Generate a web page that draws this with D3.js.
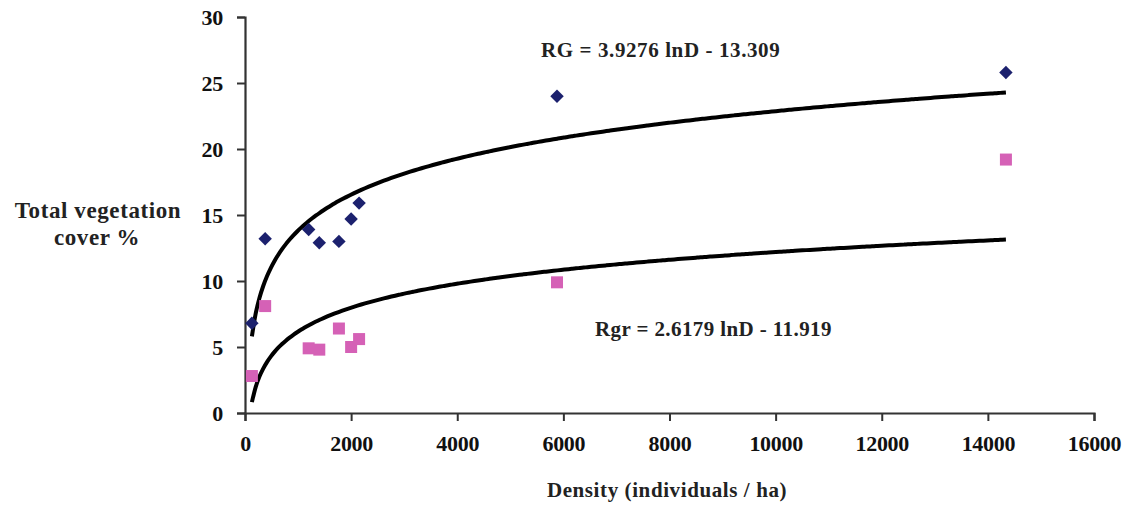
<!DOCTYPE html>
<html>
<head>
<meta charset="utf-8">
<script src="https://cdn.jsdelivr.net/npm/d3@7"></script>
<style>
    body { margin: 0; background: #fff; }
    svg { display: block; }
    .tick text { font-family: "Liberation Serif", serif; font-weight: bold; font-size: 22px; fill: #111; letter-spacing: -0.3px; }
    .label { font-family: "Liberation Serif", serif; font-weight: bold; fill: #222; }
</style>
</head>
<body>
<svg id="chart" width="1124" height="509"></svg>
<script>
// density (individuals / ha)
let density = [130, 380, 1200, 1400, 1770, 2000, 2150, 5880, 14340];
// total vegetation cover %, RG series (diamonds)
let coverRG = [6.8, 13.2, 13.9, 12.9, 13.0, 14.7, 15.9, 24.0, 25.8];
// total vegetation cover %, Rgr series (squares)
let coverRgr = [2.8, 8.1, 4.9, 4.8, 6.4, 5.0, 5.6, 9.9, 19.2];

let xTicks = [0, 2000, 4000, 6000, 8000, 10000, 12000, 14000, 16000];
let yTicks = [0, 5, 10, 15, 20, 25, 30];

// logarithmic trend lines as printed on the chart: a * ln(D) + b
let trendRG = { a: 3.9276, b: -13.309, text: "RG = 3.9276 lnD - 13.309" };
let trendRgr = { a: 2.6179, b: -11.919, text: "Rgr = 2.6179 lnD - 11.919" };

let svg = d3.select("#chart");

let x = d3.scaleLinear().domain([0, 16000]).range([245, 1094]);
let y = d3.scaleLinear().domain([0, 30]).range([413, 17]);

let xAxis = svg.append("g")
    .attr("transform", `translate(0, ${y(0)})`)
    .call(d3.axisBottom(x).tickValues(xTicks).tickSize(8).tickPadding(11).tickFormat(d3.format("d")));
let yAxis = svg.append("g")
    .attr("transform", `translate(${x(0)}, 0)`)
    .call(d3.axisLeft(y).tickValues(yTicks).tickSize(8).tickPadding(14));

for (let axis of [xAxis, yAxis]) {
    axis.select(".domain").attr("stroke", "#333").attr("stroke-width", 2.2);
    axis.selectAll(".tick line").attr("stroke", "#333").attr("stroke-width", 2);
}
xAxis.selectAll(".tick text").attr("dy", "0.85em");

// trend lines, sampled between the first and last density
function trendPoints(trend) {
    let lo = d3.min(density), hi = d3.max(density);
    return d3.range(0, 201).map(i => {
        let d = lo + (hi - lo) * i / 200;
        return [d, trend.a * Math.log(d) + trend.b];
    });
}
let line = d3.line().x(p => x(p[0])).y(p => y(p[1])).curve(d3.curveMonotoneX);

for (let trend of [trendRG, trendRgr]) {
    svg.append("path")
        .attr("d", line(trendPoints(trend)))
        .attr("fill", "none")
        .attr("stroke", "#000")
        .attr("stroke-width", 4)
        .attr("stroke-linejoin", "round");
}

svg.append("g")
    .selectAll("path")
    .data(density.map((d, i) => [d, coverRG[i]]))
    .enter()
    .append("path")
    .attr("d", d3.symbol().type(d3.symbolDiamond2).size(115))
    .attr("transform", p => `translate(${x(p[0])}, ${y(p[1])})`)
    .attr("fill", "#1c216e");

svg.append("g")
    .selectAll("rect")
    .data(density.map((d, i) => [d, coverRgr[i]]))
    .enter()
    .append("rect")
    .attr("x", p => x(p[0]) - 6)
    .attr("y", p => y(p[1]) - 6)
    .attr("width", 12)
    .attr("height", 12)
    .attr("fill", "#d561b6");

svg.append("text").attr("class", "label")
    .attr("x", 541).attr("y", 57)
    .attr("font-size", 21)
    .attr("letter-spacing", 0.6)
    .text(trendRG.text);
svg.append("text").attr("class", "label")
    .attr("x", 595).attr("y", 336)
    .attr("font-size", 21)
    .attr("letter-spacing", 0.4)
    .text(trendRgr.text);

svg.append("text").attr("class", "label")
    .attr("x", 98).attr("y", 218)
    .attr("text-anchor", "middle")
    .attr("font-size", 23)
    .attr("letter-spacing", 0.6)
    .text("Total vegetation");
svg.append("text").attr("class", "label")
    .attr("x", 97).attr("y", 245)
    .attr("text-anchor", "middle")
    .attr("font-size", 23)
    .attr("letter-spacing", 0.6)
    .text("cover %");

svg.append("text").attr("class", "label")
    .attr("x", 667).attr("y", 497)
    .attr("text-anchor", "middle")
    .attr("font-size", 21)
    .attr("letter-spacing", 0.6)
    .text("Density (individuals / ha)");
</script>
</body>
</html>
